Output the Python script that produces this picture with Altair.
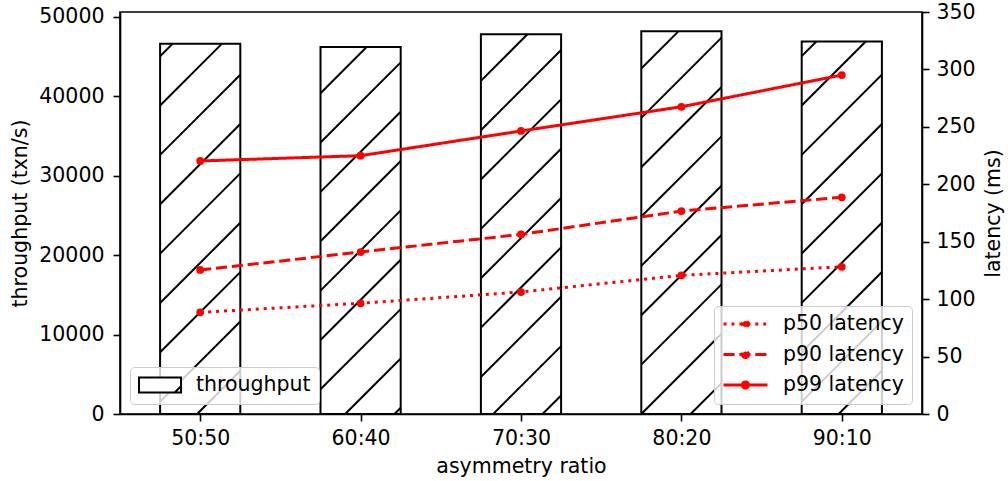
import json
import altair as alt
import numpy as np
import pandas as pd

# ---------------- data ----------------
ratios = ["50:50", "60:40", "70:30", "80:20", "90:10"]
throughput = [46600, 46200, 47800, 48200, 46900]
p50_latency = [88.5, 96.4, 106.2, 120.7, 128.2]
p90_latency = [125.4, 141.0, 156.4, 176.7, 188.7]
p99_latency = [220.3, 224.9, 246.4, 267.5, 295.1]
series_names = ["p50 latency", "p90 latency", "p99 latency"]
left_ticks = [0, 10000, 20000, 30000, 40000, 50000]
right_ticks = [0, 50, 100, 150, 200, 250, 300, 350]

# ---------------- layout / style ----------------
W, H = 802, 402
X_MIN, X_MAX = -0.5, 4.5
Y_LEFT_MAX = 50610
Y_RIGHT_MAX = 350
BAR_HALF = 0.25
FONT = "DejaVu Sans"
FS = 20.5
RED = "#ff0000"

idx = list(range(len(ratios)))
bars_df = pd.DataFrame({
    "x0": [i - BAR_HALF for i in idx],
    "x1": [i + BAR_HALF for i in idx],
    "throughput": throughput,
    "series": ["throughput"] * len(idx),
})

# hatch segments ('/' pattern) derived from the bars through the scale mapping
HATCH_STEP = 49.35
HATCH_PHASE = 84.3


def to_px(x):
    return (x - X_MIN) / (X_MAX - X_MIN) * W


def to_py(v):
    return H - v / Y_LEFT_MAX * H


def from_px(p):
    return p / W * (X_MAX - X_MIN) + X_MIN


def from_py(p):
    return (H - p) / H * Y_LEFT_MAX


segs = []
for i, v in zip(idx, throughput):
    L, R, T, B = to_px(i - BAR_HALF), to_px(i + BAR_HALF), to_py(v), H
    kmin = int(np.floor((L + T - HATCH_PHASE) / HATCH_STEP)) - 1
    kmax = int(np.ceil((R + B - HATCH_PHASE) / HATCH_STEP)) + 1
    for k in range(kmin, kmax + 1):
        c = HATCH_PHASE + k * HATCH_STEP
        a = max(L, c - B)
        b = min(R, c - T)
        if b - a > 0.5:
            segs.append({
                "hx": from_px(a), "hy": from_py(c - a),
                "hx2": from_px(b), "hy2": from_py(c - b),
            })
hatch_df = pd.DataFrame(segs)

lat_rows = []
for name, vals in zip(series_names, [p50_latency, p90_latency, p99_latency]):
    for i, v in zip(idx, vals):
        lat_rows.append({"i": i, "latency": v, "series": name})
lat_df = pd.DataFrame(lat_rows)

# ---------------- scales / axes ----------------
x_scale = alt.Scale(domain=[X_MIN, X_MAX], nice=False, zero=False)
x_axis = alt.Axis(values=idx, labelExpr=f"{json.dumps(ratios)}[datum.value]",
                  title="asymmetry ratio", labelFlush=False)
yl_scale = alt.Scale(domain=[0, Y_LEFT_MAX], nice=False)
yl_axis = alt.Axis(orient="left", values=left_ticks, format="d",
                   title="throughput (txn/s)", labelFlush=False,
                   labelPadding=9, titlePadding=8)
yr_scale = alt.Scale(domain=[0, Y_RIGHT_MAX], nice=False)
yr_axis = alt.Axis(orient="right", values=right_ticks, format="d",
                   title="latency (ms)", labelFlush=False, titleAngle=270,
                   titleBaseline="top", labelPadding=7, titlePadding=8)

bar_symbol = "M-1,-0.357H1V0.357H-1ZM0.7,0.357L1,0.057"
line_symbol = "M-1,0L1,0M0.14,0A0.14,0.14,0,1,1,-0.14,0A0.14,0.14,0,1,1,0.14,0Z"

legend_box = dict(
    offset=10, padding=8, fillColor="rgba(255,255,255,0.8)",
    strokeColor="#cccccc", cornerRadius=4, labelFontSize=FS, labelFont=FONT,
    labelColor="black", title=None, clipHeight=20,
)

bars = alt.Chart(bars_df).mark_rect(fill="white", strokeWidth=2).encode(
    x=alt.X("x0:Q", scale=x_scale, axis=x_axis),
    x2="x1:Q",
    y=alt.Y("throughput:Q", scale=yl_scale, axis=yl_axis),
    y2=alt.Y2(datum=0),
    stroke=alt.Stroke(
        "series:N",
        scale=alt.Scale(domain=["throughput"], range=["black"]),
        legend=alt.Legend(orient="bottom-left", symbolType=bar_symbol,
                          symbolSize=1764, symbolStrokeWidth=2,
                          symbolStrokeColor="black", symbolFillColor="transparent",
                          labelOffset=14, **legend_box),
    ),
)

hatch = alt.Chart(hatch_df).mark_rule(color="black", strokeWidth=2).encode(
    x=alt.X("hx:Q", scale=x_scale, axis=x_axis),
    x2="hx2:Q",
    y=alt.Y("hy:Q", scale=yl_scale, axis=yl_axis),
    y2="hy2:Q",
)

left = alt.layer(bars, hatch)

lines = alt.Chart(lat_df).mark_line(color=RED, strokeWidth=3).encode(
    x=alt.X("i:Q", scale=x_scale, axis=x_axis),
    y=alt.Y("latency:Q", scale=yr_scale, axis=yr_axis),
    strokeDash=alt.StrokeDash(
        "series:N",
        scale=alt.Scale(domain=series_names,
                        range=[[3, 4.95], [11.1, 4.8], [1, 0]]),
        legend=alt.Legend(orient="bottom-right", symbolType=line_symbol,
                          symbolSize=1936, symbolStrokeWidth=3,
                          symbolStrokeColor=RED, symbolFillColor=RED,
                          labelOffset=14, rowPadding=9.5, **legend_box),
    ),
)

points = alt.Chart(lat_df).mark_circle(color=RED, size=60, opacity=1).encode(
    x=alt.X("i:Q", scale=x_scale, axis=x_axis),
    y=alt.Y("latency:Q", scale=yr_scale, axis=yr_axis),
)

right = alt.layer(lines, points)

chart = alt.layer(left, right).resolve_scale(y="independent").properties(
    width=W, height=H,
    padding={"left": 120, "top": 12, "right": 86, "bottom": 67},
    autosize=alt.AutoSizeParams(type="none"),
).configure(font=FONT).configure_axis(
    labelFont=FONT, titleFont=FONT, labelFontSize=FS, titleFontSize=FS,
    titleFontWeight="normal", labelColor="black", titleColor="black",
    domainColor="black", tickColor="black", domainWidth=1.6, tickWidth=1.6,
    tickSize=7, grid=False, labelPadding=7, titlePadding=8, labelFlush=False,
).configure_view(stroke="black", strokeWidth=1.6)

chart.save("out.html", embed_options={"renderer": "svg", "actions": False})
